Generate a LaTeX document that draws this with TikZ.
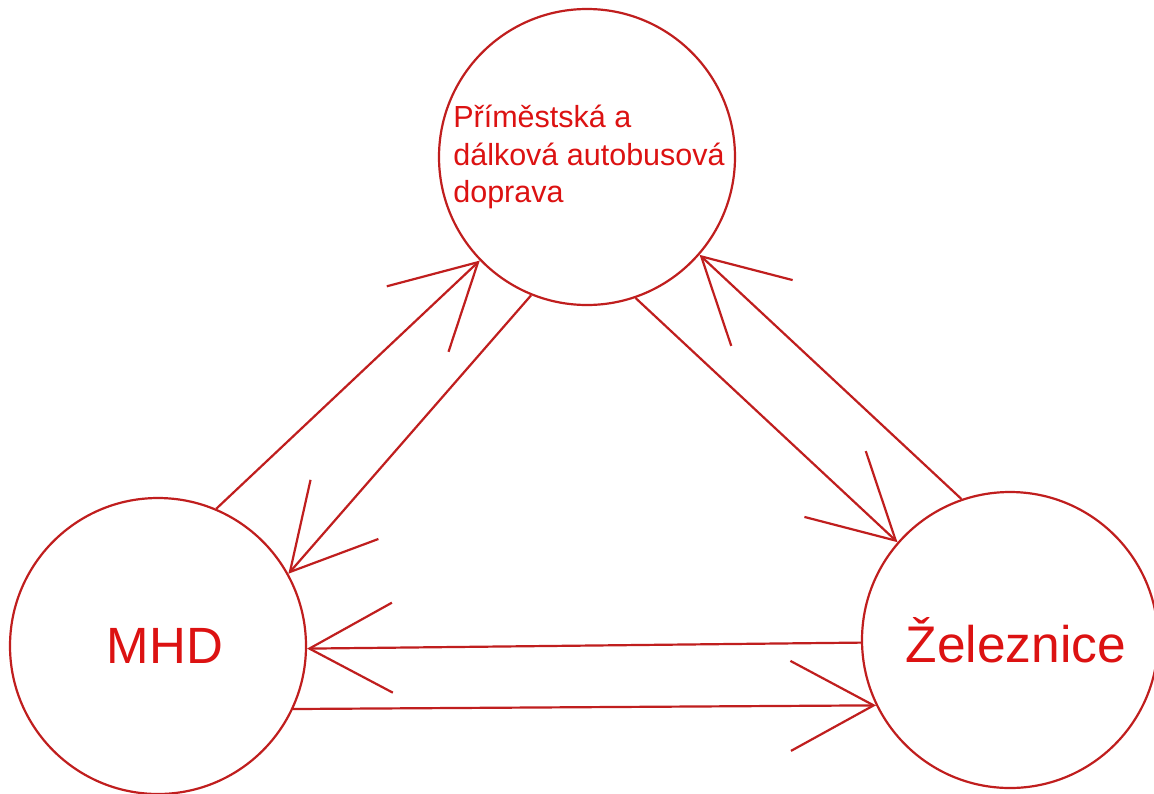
\documentclass[tikz,border=0pt]{standalone}
\usepackage{fontspec}
\setmainfont{Liberation Sans}
\usetikzlibrary{arrows.meta}
\definecolor{linered}{RGB}{192,30,30}
\definecolor{textred}{RGB}{220,18,18}
\begin{document}
\begin{tikzpicture}[x=1pt,y=-1pt,
  station/.style={circle, draw=linered, line width=2.2pt, minimum size=296pt, inner sep=0pt, text=textred},
  flow/.style={draw=linered, line width=2.2pt, -{Straight Barb[length=83pt,width=90pt]}}]
\fill[white] (0,0) rectangle (1154,793);
\useasboundingbox (0,0) rectangle (1154,793);
\node[station, font=\fontsize{30.5}{37.5}\selectfont, align=left] (bus) at (587,157) {\hspace*{4pt}Příměstská a\\\hspace*{4pt}dálková autobusová\\\hspace*{4pt}doprava};
\node[station, font=\fontsize{51}{60}\selectfont] (mhd) at (158,646) {\hspace*{14pt}MHD};
\node[station, font=\fontsize{51.5}{60}\selectfont] (zel) at (1010,640) {\hspace*{12pt}Železnice};
\draw[flow] (mhd.67.4) -- (bus.224.5);
\draw[flow] (bus.248.7) -- (mhd.29.3);
\draw[flow] (zel.109.8) -- (bus.319.6);
\draw[flow] (bus.289.3) -- (zel.139.9);
\draw[flow] (zel.181.2) -- (mhd.359.6);
\draw[flow] (mhd.335) -- (zel.206.7);
\end{tikzpicture}
\end{document}
